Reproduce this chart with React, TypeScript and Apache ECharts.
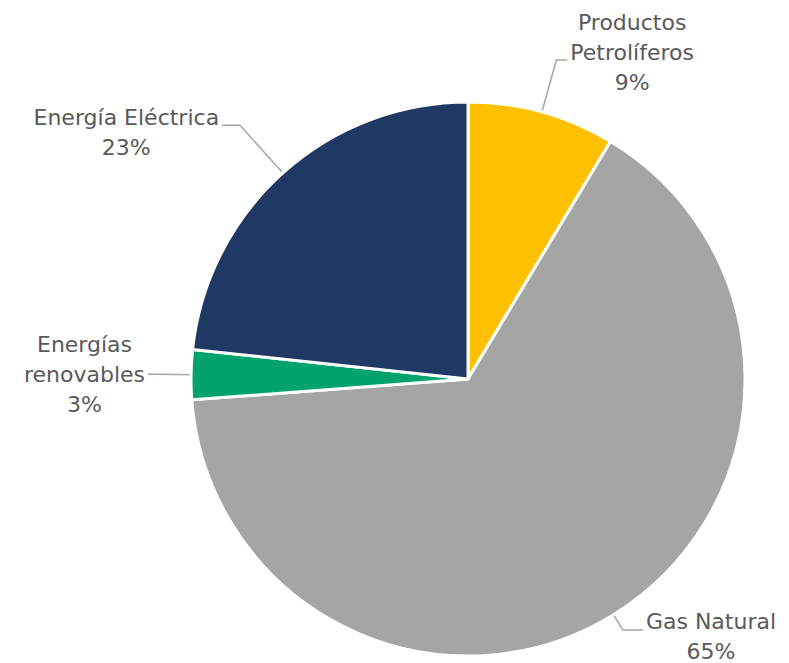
import React, { useEffect, useRef } from "react";
import * as echarts from "echarts";

const categories = ["Productos Petrolíferos", "Gas Natural", "Energías renovables", "Energía Eléctrica"];
const labelLines = [["Productos", "Petrolíferos"], ["Gas Natural"], ["Energías", "renovables"], ["Energía Eléctrica"]];
const values = [8.6, 65.2, 2.9, 23.3];
const colors = ["#FFC000", "#A5A5A5", "#00A36C", "#1F3864"];
// label line layout per slice (style only)
const lineLen = [54, 18, 30, 64];
const lineLen2 = [11, 20, 13, 18];
const labelPad = [[0, 0, 16, 0], [12, 0, 0, 0], [0, 0, 0, 0], [14, 0, 0, 0]];

export default function App() {
  const ref = useRef<HTMLDivElement>(null);
  useEffect(() => {
    const chart = echarts.init(ref.current!, null, { renderer: "svg" });
    chart.setOption({
      animation: false,
      backgroundColor: "#ffffff",
      series: [
        {
          type: "pie",
          center: [468, 379],
          radius: 277,
          startAngle: 90,
          clockwise: true,
          avoidLabelOverlap: false,
          itemStyle: { borderColor: "#ffffff", borderWidth: 3 },
          data: categories.map((c, i) => ({
            name: c,
            value: values[i],
            itemStyle: { color: colors[i] },
            label: { padding: labelPad[i] },
            labelLine: { length: lineLen[i], length2: lineLen2[i] },
          })),
          label: {
            show: true,
            position: "outside",
            fontFamily: "DejaVu Sans",
            fontSize: 22,
            color: "#595959",
            lineHeight: 30,
            distanceToLabelLine: 3,
            formatter: (p: any) => {
              const lines = [...labelLines[p.dataIndex], Math.round(p.percent) + "%"];
              return lines.map((l) => "{t|" + l + "}").join("\n");
            },
            rich: {
              t: { align: "center", fontFamily: "DejaVu Sans", fontSize: 22, color: "#595959", lineHeight: 30 },
            },
          },
          labelLine: {
            show: true,
            smooth: false,
            lineStyle: { color: "#A6A6A6", width: 1.5 },
          },
        },
      ],
    });
    return () => chart.dispose();
  }, []);
  return <div ref={ref} style={{ position: "absolute", left: 0, top: 0, width: 789, height: 663 }} />;
}
